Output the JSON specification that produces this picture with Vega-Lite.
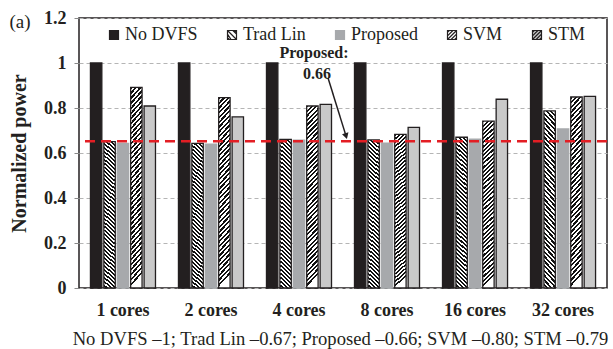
{
  "$schema": "https://vega.github.io/schema/vega-lite/v6.json",
  "width": 528,
  "height": 270,
  "autosize": {"type": "none"},
  "padding": {"left": 79, "top": 18, "right": 6, "bottom": 61},
  "config": {
    "font": "Liberation Serif",
    "view": {"stroke": "#231f20", "strokeWidth": 1.5}
  },
  "title": {"text": "(a)", "anchor": "start", "frame": "bounds", "fontSize": 19, "fontWeight": "normal", "color": "#231f20", "offset": -23},
  "data": {"values": [
    {"cores": "1 cores", "method": "No DVFS", "value": 1},
    {"cores": "1 cores", "method": "Trad Lin", "value": 0.651},
    {"cores": "1 cores", "method": "Proposed", "value": 0.643},
    {"cores": "1 cores", "method": "SVM", "value": 0.892},
    {"cores": "1 cores", "method": "STM", "value": 0.809},
    {"cores": "2 cores", "method": "No DVFS", "value": 1},
    {"cores": "2 cores", "method": "Trad Lin", "value": 0.643},
    {"cores": "2 cores", "method": "Proposed", "value": 0.639},
    {"cores": "2 cores", "method": "SVM", "value": 0.846},
    {"cores": "2 cores", "method": "STM", "value": 0.761},
    {"cores": "4 cores", "method": "No DVFS", "value": 1},
    {"cores": "4 cores", "method": "Trad Lin", "value": 0.661},
    {"cores": "4 cores", "method": "Proposed", "value": 0.657},
    {"cores": "4 cores", "method": "SVM", "value": 0.809},
    {"cores": "4 cores", "method": "STM", "value": 0.816},
    {"cores": "8 cores", "method": "No DVFS", "value": 1},
    {"cores": "8 cores", "method": "Trad Lin", "value": 0.658},
    {"cores": "8 cores", "method": "Proposed", "value": 0.644},
    {"cores": "8 cores", "method": "SVM", "value": 0.683},
    {"cores": "8 cores", "method": "STM", "value": 0.714},
    {"cores": "16 cores", "method": "No DVFS", "value": 1},
    {"cores": "16 cores", "method": "Trad Lin", "value": 0.670},
    {"cores": "16 cores", "method": "Proposed", "value": 0.662},
    {"cores": "16 cores", "method": "SVM", "value": 0.742},
    {"cores": "16 cores", "method": "STM", "value": 0.839},
    {"cores": "32 cores", "method": "No DVFS", "value": 1},
    {"cores": "32 cores", "method": "Trad Lin", "value": 0.787},
    {"cores": "32 cores", "method": "Proposed", "value": 0.707},
    {"cores": "32 cores", "method": "SVM", "value": 0.849},
    {"cores": "32 cores", "method": "STM", "value": 0.852}
  ]},
  "layer": [
    {
      "mark": {"type": "bar", "strokeWidth": 1.3},
      "encoding": {
        "x": {
          "field": "cores", "type": "nominal",
          "sort": ["1 cores", "2 cores", "4 cores", "8 cores", "16 cores", "32 cores"],
          "scale": {"paddingInner": 0.261, "paddingOuter": 0.13},
          "axis": {
            "title": "No DVFS –1; Trad Lin –0.67; Proposed –0.66; SVM –0.80; STM –0.79",
            "labelAngle": 0, "labelFontWeight": "bold", "labelFontSize": 18, "labelColor": "#231f20",
            "labelPadding": 13, "ticks": false, "domain": false,
            "titleFontSize": 18.6, "titleFontWeight": "normal", "titlePadding": 10, "titleColor": "#231f20", "titleX": 261
          }
        },
        "xOffset": {
          "field": "method", "type": "nominal",
          "sort": ["No DVFS", "Trad Lin", "Proposed", "SVM", "STM"],
          "scale": {"paddingInner": 0.15, "paddingOuter": 0}
        },
        "y": {
          "field": "value", "type": "quantitative",
          "scale": {"domain": [0, 1.2]},
          "axis": {
            "title": "Normalized power", "values": [0, 0.2, 0.4, 0.6, 0.8, 1, 1.2], "format": "~g",
            "labelFontWeight": "bold", "labelFontSize": 18, "labelColor": "#231f20", "labelPadding": 8,
            "tickSize": 5, "tickColor": "#888888", "domain": false,
            "gridDash": [4, 3], "gridColor": "#b5b5b5",
            "titleFontSize": 20, "titleFontWeight": "bold", "titlePadding": 14, "titleColor": "#231f20"
          }
        },
        "fill": {
          "condition": [
            {"test": "datum.method==='No DVFS'", "value": "#231f20"},
            {"test": "datum.method==='Proposed'", "value": "#a7a9ac"},
            {"test": "datum.method==='Trad Lin'", "value": {"gradient": "linear", "x1": 0.075, "y1": -0.07, "x2": 0, "y2": 1, "stops": [
              {"offset":0,"color":"#111"},{"offset":0.0125,"color":"#111"},{"offset":0.0125,"color":"#fff"},{"offset":0.025,"color":"#fff"},
              {"offset":0.025,"color":"#111"},{"offset":0.0375,"color":"#111"},{"offset":0.0375,"color":"#fff"},{"offset":0.05,"color":"#fff"},
              {"offset":0.05,"color":"#111"},{"offset":0.0625,"color":"#111"},{"offset":0.0625,"color":"#fff"},{"offset":0.075,"color":"#fff"},
              {"offset":0.075,"color":"#111"},{"offset":0.0875,"color":"#111"},{"offset":0.0875,"color":"#fff"},{"offset":0.1,"color":"#fff"},
              {"offset":0.1,"color":"#111"},{"offset":0.1125,"color":"#111"},{"offset":0.1125,"color":"#fff"},{"offset":0.125,"color":"#fff"},
              {"offset":0.125,"color":"#111"},{"offset":0.1375,"color":"#111"},{"offset":0.1375,"color":"#fff"},{"offset":0.15,"color":"#fff"},
              {"offset":0.15,"color":"#111"},{"offset":0.1625,"color":"#111"},{"offset":0.1625,"color":"#fff"},{"offset":0.175,"color":"#fff"},
              {"offset":0.175,"color":"#111"},{"offset":0.1875,"color":"#111"},{"offset":0.1875,"color":"#fff"},{"offset":0.2,"color":"#fff"},
              {"offset":0.2,"color":"#111"},{"offset":0.2125,"color":"#111"},{"offset":0.2125,"color":"#fff"},{"offset":0.225,"color":"#fff"},
              {"offset":0.225,"color":"#111"},{"offset":0.2375,"color":"#111"},{"offset":0.2375,"color":"#fff"},{"offset":0.25,"color":"#fff"},
              {"offset":0.25,"color":"#111"},{"offset":0.2625,"color":"#111"},{"offset":0.2625,"color":"#fff"},{"offset":0.275,"color":"#fff"},
              {"offset":0.275,"color":"#111"},{"offset":0.2875,"color":"#111"},{"offset":0.2875,"color":"#fff"},{"offset":0.3,"color":"#fff"},
              {"offset":0.3,"color":"#111"},{"offset":0.3125,"color":"#111"},{"offset":0.3125,"color":"#fff"},{"offset":0.325,"color":"#fff"},
              {"offset":0.325,"color":"#111"},{"offset":0.3375,"color":"#111"},{"offset":0.3375,"color":"#fff"},{"offset":0.35,"color":"#fff"},
              {"offset":0.35,"color":"#111"},{"offset":0.3625,"color":"#111"},{"offset":0.3625,"color":"#fff"},{"offset":0.375,"color":"#fff"},
              {"offset":0.375,"color":"#111"},{"offset":0.3875,"color":"#111"},{"offset":0.3875,"color":"#fff"},{"offset":0.4,"color":"#fff"},
              {"offset":0.4,"color":"#111"},{"offset":0.4125,"color":"#111"},{"offset":0.4125,"color":"#fff"},{"offset":0.425,"color":"#fff"},
              {"offset":0.425,"color":"#111"},{"offset":0.4375,"color":"#111"},{"offset":0.4375,"color":"#fff"},{"offset":0.45,"color":"#fff"},
              {"offset":0.45,"color":"#111"},{"offset":0.4625,"color":"#111"},{"offset":0.4625,"color":"#fff"},{"offset":0.475,"color":"#fff"},
              {"offset":0.475,"color":"#111"},{"offset":0.4875,"color":"#111"},{"offset":0.4875,"color":"#fff"},{"offset":0.5,"color":"#fff"},
              {"offset":0.5,"color":"#111"},{"offset":0.5125,"color":"#111"},{"offset":0.5125,"color":"#fff"},{"offset":0.525,"color":"#fff"},
              {"offset":0.525,"color":"#111"},{"offset":0.5375,"color":"#111"},{"offset":0.5375,"color":"#fff"},{"offset":0.55,"color":"#fff"},
              {"offset":0.55,"color":"#111"},{"offset":0.5625,"color":"#111"},{"offset":0.5625,"color":"#fff"},{"offset":0.575,"color":"#fff"},
              {"offset":0.575,"color":"#111"},{"offset":0.5875,"color":"#111"},{"offset":0.5875,"color":"#fff"},{"offset":0.6,"color":"#fff"},
              {"offset":0.6,"color":"#111"},{"offset":0.6125,"color":"#111"},{"offset":0.6125,"color":"#fff"},{"offset":0.625,"color":"#fff"},
              {"offset":0.625,"color":"#111"},{"offset":0.6375,"color":"#111"},{"offset":0.6375,"color":"#fff"},{"offset":0.65,"color":"#fff"},
              {"offset":0.65,"color":"#111"},{"offset":0.6625,"color":"#111"},{"offset":0.6625,"color":"#fff"},{"offset":0.675,"color":"#fff"},
              {"offset":0.675,"color":"#111"},{"offset":0.6875,"color":"#111"},{"offset":0.6875,"color":"#fff"},{"offset":0.7,"color":"#fff"},
              {"offset":0.7,"color":"#111"},{"offset":0.7125,"color":"#111"},{"offset":0.7125,"color":"#fff"},{"offset":0.725,"color":"#fff"},
              {"offset":0.725,"color":"#111"},{"offset":0.7375,"color":"#111"},{"offset":0.7375,"color":"#fff"},{"offset":0.75,"color":"#fff"},
              {"offset":0.75,"color":"#111"},{"offset":0.7625,"color":"#111"},{"offset":0.7625,"color":"#fff"},{"offset":0.775,"color":"#fff"},
              {"offset":0.775,"color":"#111"},{"offset":0.7875,"color":"#111"},{"offset":0.7875,"color":"#fff"},{"offset":0.8,"color":"#fff"},
              {"offset":0.8,"color":"#111"},{"offset":0.8125,"color":"#111"},{"offset":0.8125,"color":"#fff"},{"offset":0.825,"color":"#fff"},
              {"offset":0.825,"color":"#111"},{"offset":0.8375,"color":"#111"},{"offset":0.8375,"color":"#fff"},{"offset":0.85,"color":"#fff"},
              {"offset":0.85,"color":"#111"},{"offset":0.8625,"color":"#111"},{"offset":0.8625,"color":"#fff"},{"offset":0.875,"color":"#fff"},
              {"offset":0.875,"color":"#111"},{"offset":0.8875,"color":"#111"},{"offset":0.8875,"color":"#fff"},{"offset":0.9,"color":"#fff"},
              {"offset":0.9,"color":"#111"},{"offset":0.9125,"color":"#111"},{"offset":0.9125,"color":"#fff"},{"offset":0.925,"color":"#fff"},
              {"offset":0.925,"color":"#111"},{"offset":0.9375,"color":"#111"},{"offset":0.9375,"color":"#fff"},{"offset":0.95,"color":"#fff"},
              {"offset":0.95,"color":"#111"},{"offset":0.9625,"color":"#111"},{"offset":0.9625,"color":"#fff"},{"offset":0.975,"color":"#fff"},
              {"offset":0.975,"color":"#111"},{"offset":0.9875,"color":"#111"},{"offset":0.9875,"color":"#fff"},{"offset":1,"color":"#fff"}
            ]}},
            {"test": "datum.method==='SVM'", "value": {"gradient": "linear", "x1": 0, "y1": 0, "x2": 0.065, "y2": 1, "stops": [
              {"offset":0,"color":"#111"},{"offset":0.0125,"color":"#111"},{"offset":0.0125,"color":"#fff"},{"offset":0.025,"color":"#fff"},
              {"offset":0.025,"color":"#111"},{"offset":0.0375,"color":"#111"},{"offset":0.0375,"color":"#fff"},{"offset":0.05,"color":"#fff"},
              {"offset":0.05,"color":"#111"},{"offset":0.0625,"color":"#111"},{"offset":0.0625,"color":"#fff"},{"offset":0.075,"color":"#fff"},
              {"offset":0.075,"color":"#111"},{"offset":0.0875,"color":"#111"},{"offset":0.0875,"color":"#fff"},{"offset":0.1,"color":"#fff"},
              {"offset":0.1,"color":"#111"},{"offset":0.1125,"color":"#111"},{"offset":0.1125,"color":"#fff"},{"offset":0.125,"color":"#fff"},
              {"offset":0.125,"color":"#111"},{"offset":0.1375,"color":"#111"},{"offset":0.1375,"color":"#fff"},{"offset":0.15,"color":"#fff"},
              {"offset":0.15,"color":"#111"},{"offset":0.1625,"color":"#111"},{"offset":0.1625,"color":"#fff"},{"offset":0.175,"color":"#fff"},
              {"offset":0.175,"color":"#111"},{"offset":0.1875,"color":"#111"},{"offset":0.1875,"color":"#fff"},{"offset":0.2,"color":"#fff"},
              {"offset":0.2,"color":"#111"},{"offset":0.2125,"color":"#111"},{"offset":0.2125,"color":"#fff"},{"offset":0.225,"color":"#fff"},
              {"offset":0.225,"color":"#111"},{"offset":0.2375,"color":"#111"},{"offset":0.2375,"color":"#fff"},{"offset":0.25,"color":"#fff"},
              {"offset":0.25,"color":"#111"},{"offset":0.2625,"color":"#111"},{"offset":0.2625,"color":"#fff"},{"offset":0.275,"color":"#fff"},
              {"offset":0.275,"color":"#111"},{"offset":0.2875,"color":"#111"},{"offset":0.2875,"color":"#fff"},{"offset":0.3,"color":"#fff"},
              {"offset":0.3,"color":"#111"},{"offset":0.3125,"color":"#111"},{"offset":0.3125,"color":"#fff"},{"offset":0.325,"color":"#fff"},
              {"offset":0.325,"color":"#111"},{"offset":0.3375,"color":"#111"},{"offset":0.3375,"color":"#fff"},{"offset":0.35,"color":"#fff"},
              {"offset":0.35,"color":"#111"},{"offset":0.3625,"color":"#111"},{"offset":0.3625,"color":"#fff"},{"offset":0.375,"color":"#fff"},
              {"offset":0.375,"color":"#111"},{"offset":0.3875,"color":"#111"},{"offset":0.3875,"color":"#fff"},{"offset":0.4,"color":"#fff"},
              {"offset":0.4,"color":"#111"},{"offset":0.4125,"color":"#111"},{"offset":0.4125,"color":"#fff"},{"offset":0.425,"color":"#fff"},
              {"offset":0.425,"color":"#111"},{"offset":0.4375,"color":"#111"},{"offset":0.4375,"color":"#fff"},{"offset":0.45,"color":"#fff"},
              {"offset":0.45,"color":"#111"},{"offset":0.4625,"color":"#111"},{"offset":0.4625,"color":"#fff"},{"offset":0.475,"color":"#fff"},
              {"offset":0.475,"color":"#111"},{"offset":0.4875,"color":"#111"},{"offset":0.4875,"color":"#fff"},{"offset":0.5,"color":"#fff"},
              {"offset":0.5,"color":"#111"},{"offset":0.5125,"color":"#111"},{"offset":0.5125,"color":"#fff"},{"offset":0.525,"color":"#fff"},
              {"offset":0.525,"color":"#111"},{"offset":0.5375,"color":"#111"},{"offset":0.5375,"color":"#fff"},{"offset":0.55,"color":"#fff"},
              {"offset":0.55,"color":"#111"},{"offset":0.5625,"color":"#111"},{"offset":0.5625,"color":"#fff"},{"offset":0.575,"color":"#fff"},
              {"offset":0.575,"color":"#111"},{"offset":0.5875,"color":"#111"},{"offset":0.5875,"color":"#fff"},{"offset":0.6,"color":"#fff"},
              {"offset":0.6,"color":"#111"},{"offset":0.6125,"color":"#111"},{"offset":0.6125,"color":"#fff"},{"offset":0.625,"color":"#fff"},
              {"offset":0.625,"color":"#111"},{"offset":0.6375,"color":"#111"},{"offset":0.6375,"color":"#fff"},{"offset":0.65,"color":"#fff"},
              {"offset":0.65,"color":"#111"},{"offset":0.6625,"color":"#111"},{"offset":0.6625,"color":"#fff"},{"offset":0.675,"color":"#fff"},
              {"offset":0.675,"color":"#111"},{"offset":0.6875,"color":"#111"},{"offset":0.6875,"color":"#fff"},{"offset":0.7,"color":"#fff"},
              {"offset":0.7,"color":"#111"},{"offset":0.7125,"color":"#111"},{"offset":0.7125,"color":"#fff"},{"offset":0.725,"color":"#fff"},
              {"offset":0.725,"color":"#111"},{"offset":0.7375,"color":"#111"},{"offset":0.7375,"color":"#fff"},{"offset":0.75,"color":"#fff"},
              {"offset":0.75,"color":"#111"},{"offset":0.7625,"color":"#111"},{"offset":0.7625,"color":"#fff"},{"offset":0.775,"color":"#fff"},
              {"offset":0.775,"color":"#111"},{"offset":0.7875,"color":"#111"},{"offset":0.7875,"color":"#fff"},{"offset":0.8,"color":"#fff"},
              {"offset":0.8,"color":"#111"},{"offset":0.8125,"color":"#111"},{"offset":0.8125,"color":"#fff"},{"offset":0.825,"color":"#fff"},
              {"offset":0.825,"color":"#111"},{"offset":0.8375,"color":"#111"},{"offset":0.8375,"color":"#fff"},{"offset":0.85,"color":"#fff"},
              {"offset":0.85,"color":"#111"},{"offset":0.8625,"color":"#111"},{"offset":0.8625,"color":"#fff"},{"offset":0.875,"color":"#fff"},
              {"offset":0.875,"color":"#111"},{"offset":0.8875,"color":"#111"},{"offset":0.8875,"color":"#fff"},{"offset":0.9,"color":"#fff"},
              {"offset":0.9,"color":"#111"},{"offset":0.9125,"color":"#111"},{"offset":0.9125,"color":"#fff"},{"offset":0.925,"color":"#fff"},
              {"offset":0.925,"color":"#111"},{"offset":0.9375,"color":"#111"},{"offset":0.9375,"color":"#fff"},{"offset":0.95,"color":"#fff"},
              {"offset":0.95,"color":"#111"},{"offset":0.9625,"color":"#111"},{"offset":0.9625,"color":"#fff"},{"offset":0.975,"color":"#fff"},
              {"offset":0.975,"color":"#111"},{"offset":0.9875,"color":"#111"},{"offset":0.9875,"color":"#fff"},{"offset":1,"color":"#fff"}
            ]}}
          ],
          "value": "#c9c9c9"
        },
        "stroke": {"condition": {"test": "datum.method==='Proposed'", "value": "#a7a9ac"}, "value": "#231f20"}
      }
    },
    {
      "mark": {"type": "point", "filled": true, "size": 0, "opacity": 1},
      "encoding": {
        "y": {"field": "value", "type": "quantitative"},
        "fill": {
          "field": "method", "type": "nominal",
          "scale": {"domain": ["No DVFS", "Trad Lin", "Proposed", "SVM", "STM"], "range": ["#231f20", "#ffffff", "#a7a9ac", "#ffffff", "#c9c9c9"]},
          "legend": {
            "title": null, "orient": "none", "legendX": 26, "legendY": 8, "direction": "horizontal",
            "symbolSize": 81, "labelFontSize": 18, "labelColor": "#231f20",
            "labelOffset": 2, "columnPadding": 25, "symbolStrokeWidth": 1.2, "symbolOpacity": 1
          }
        },
        "stroke": {
          "field": "method", "type": "nominal",
          "scale": {"domain": ["No DVFS", "Trad Lin", "Proposed", "SVM", "STM"], "range": ["#231f20", "#231f20", "#a7a9ac", "#231f20", "#231f20"]}
        },
        "shape": {
          "field": "method", "type": "nominal",
          "scale": {"domain": ["No DVFS", "Trad Lin", "Proposed", "SVM", "STM"], "range": [
            "square",
            "M-1,-1H1V1H-1ZM-1,-1L1,1M-1,-0.2L-0.2,1M-1,0.6L-0.6,1M0.2,-1L1,-0.2M0.6,-1L1,-0.6",
            "square",
            "M-1,-1H1V1H-1ZM-1,1L1,-1M-1,0.2L0.2,-1M-1,-0.6L-0.6,-1M-0.2,1L1,-0.2M0.6,1L1,0.6",
            "M-1,-1H1V1H-1ZM-1,1L1,-1M-1,0.2L0.2,-1M-1,-0.6L-0.6,-1M-0.2,1L1,-0.2M0.6,1L1,0.6"
          ]}
        }
      }
    },
    {
      "data": {"values": [{"v": 0.652}]},
      "mark": {"type": "rule", "color": "#e31e24", "strokeWidth": 2.5, "strokeDash": [10, 6]},
      "encoding": {"y": {"field": "v", "type": "quantitative"}}
    },
    {
      "data": {"values": [{"ax": 2.67, "ay": 1.022, "t": "Proposed:"}, {"ax": 2.705, "ay": 0.929, "t": "0.66"}]},
      "mark": {"type": "text", "fontWeight": "bold", "fontSize": 16, "color": "#231f20", "baseline": "alphabetic", "align": "center"},
      "encoding": {
        "x": {"field": "ax", "type": "quantitative", "scale": {"domain": [0, 6]}, "axis": null},
        "y": {"field": "ay", "type": "quantitative"},
        "text": {"field": "t"}
      }
    },
    {
      "data": {"values": [{"ax": 2.83, "ay": 0.933, "bx": 3.035, "by": 0.675}]},
      "mark": {"type": "rule", "color": "#231f20", "strokeWidth": 1.5},
      "encoding": {
        "x": {"field": "ax", "type": "quantitative", "scale": {"domain": [0, 6]}, "axis": null},
        "y": {"field": "ay", "type": "quantitative"},
        "x2": {"field": "bx"},
        "y2": {"field": "by"}
      }
    },
    {
      "data": {"values": [{"ax": 3.035, "ay": 0.675}]},
      "mark": {"type": "point", "shape": "triangle-down", "filled": true, "size": 45, "angle": 343, "color": "#231f20", "opacity": 1},
      "encoding": {
        "x": {"field": "ax", "type": "quantitative", "scale": {"domain": [0, 6]}, "axis": null},
        "y": {"field": "ay", "type": "quantitative"}
      }
    }
  ],
  "resolve": {"scale": {"x": "independent"}}
}
